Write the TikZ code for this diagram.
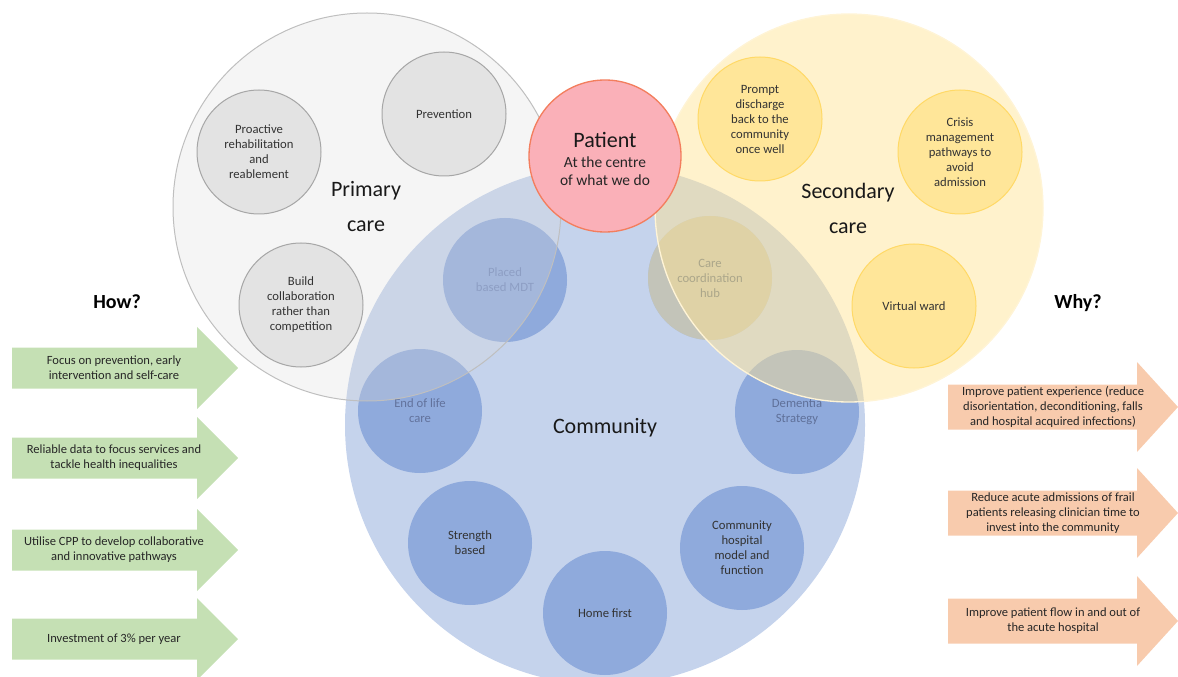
\documentclass[tikz,border=0pt]{standalone}
\usepackage{fontspec}
\setmainfont{Carlito}

\definecolor{commblue}{HTML}{C5D3EC}
\definecolor{ringblue}{HTML}{8FAADC}
\definecolor{primgray}{HTML}{DBDBDB}
\definecolor{ringgray}{HTML}{E3E3E3}
\definecolor{secyellow}{HTML}{FFE392}
\definecolor{secedge}{HTML}{FFF4D6}
\definecolor{ringyellow}{HTML}{FFE699}
\definecolor{ringedge}{HTML}{FFD966}
\definecolor{patpink}{HTML}{FAB0B8}
\definecolor{patedge}{HTML}{F37E5E}
\definecolor{howgreen}{HTML}{C5E0B4}
\definecolor{whyorange}{HTML}{F8CBAD}
\definecolor{placedtext}{HTML}{7087BB}
\definecolor{endtext}{HTML}{62729C}
\definecolor{dementext}{HTML}{5F7099}
\definecolor{hubtextcol}{HTML}{ABA68A}

\begin{document}
\begin{tikzpicture}[x=0.75pt,y=-0.75pt,
        ring/.style={circle,minimum size=93pt,inner sep=0pt,align=center,
            font=\fontsize{9.5}{11.25}\selectfont,text=black!80},
        bluering/.style={ring,fill=ringblue},
        grayring/.style={ring,fill=ringgray,draw=black!35,line width=0.75pt},
        yellowring/.style={ring,fill=ringyellow,draw=ringedge,line width=0.75pt},
        bigring/.style={circle,minimum size=291pt,inner sep=0pt},
        biglabel/.style={align=center,font=\fontsize{16.5}{26.25}\selectfont,text=black!90},
        armtext/.style={align=center,font=\fontsize{9.4}{11.25}\selectfont,text=black!85},
        heading/.style={font=\fontsize{15}{18}\selectfont\bfseries}]

            \useasboundingbox (0,0) rectangle (1178,677);

            % community and its services
            \node[circle,minimum size=390pt,inner sep=0pt,fill=commblue] (community) at (605,425) {};

            \node[bluering,text=placedtext] (placed) at (505,280) {Placed\\based MDT};

            \node[bluering] (hub) at (710,278) {};

            \node[bluering,text=endtext] (endlife) at (420,411) {End of life\\care};

            \node[bluering,text=dementext] (dementia) at (797,412) {Dementia\\Strategy};

            \node[bluering] (strength) at (470,543) {Strength\\based};

            \node[bluering] (homefirst) at (605,613) {Home first};

            \node[bluering] (commhosp) at (742,548) {Community\\hospital\\model and\\function};

            \node[biglabel] (commlabel) at (605,428) {Community};

            \node[circle,minimum size=93pt,inner sep=0pt,fill=secyellow,fill opacity=0.47] (hubveil) at (hub) {};

            % primary care
            \node[bigring,fill=primgray,fill opacity=0.28,draw=black!25,line width=0.75pt] (primary) at (367,207) {};

            \node[grayring] (proactive) at (259,152) {Proactive\\rehabilitation\\and\\reablement};

            \node[grayring] (prevention) at (444,114) {Prevention};

            \node[grayring] (build) at (301,305) {Build\\collaboration\\rather than\\competition};

            \node[biglabel] (primlabel) at (366,207) {Primary\\care};

            % secondary care
            \node[bigring,fill=secyellow,fill opacity=0.47,draw=secedge,line width=1pt] (secondary) at (849,208) {};

            \node[ring,text=hubtextcol] (hubtext) at (hub) {Care\\coordination\\hub};

            \node[yellowring] (prompt) at (760,119) {Prompt\\discharge\\back to the\\community\\once well};

            \node[yellowring] (crisis) at (960,152) {Crisis\\management\\pathways to\\avoid\\admission};

            \node[yellowring] (virtual) at (914,306) {Virtual ward};

            \node[biglabel] (seclabel) at (848,208) {Secondary\\care};

            % patient on top
            \node[circle,minimum size=114pt,inner sep=0pt,fill=patpink,draw=patedge,line width=1pt] (patient) at (605,156) {};

            \node[font=\fontsize{16.5}{20}\selectfont,text=black!90] (pattitle) at (605,140) {Patient};

            \node[align=center,font=\fontsize{11.6}{13.5}\selectfont,text=black!85] (patsub) at (605,171) {At the centre\\of what we do};

            % how and why arrows
            \node[heading] (how) at (117,302) {How?};

            \node[heading] (why) at (1078,303) {Why?};

            \foreach \y/\txt [count=\i] in {368/{Focus on prevention, early\\intervention and self-care},
                    458/{Reliable data to focus services and\\tackle health inequalities},
                    550/{Utilise CPP to develop collaborative\\and innovative pathways},
                    639/{Investment of 3\% per year}} {
                \fill[howgreen] (12,\y-20.5) -- (197,\y-20.5) -- (197,\y-41) -- (238,\y)
                    -- (197,\y+41) -- (197,\y+20.5) -- (12,\y+20.5) -- cycle;
                \node[armtext] (how\i) at (114,\y) {\txt};
            }

            \foreach \y/\txt [count=\i] in {407/{Improve patient experience (reduce\\disorientation, deconditioning, falls\\and hospital acquired infections)},
                    513/{Reduce acute admissions of frail\\patients releasing clinician time to\\invest into the community},
                    621/{Improve patient flow in and out of\\the acute hospital}} {
                \fill[whyorange] (948,\y-22.5) -- (1137,\y-22.5) -- (1137,\y-45) -- (1178,\y)
                    -- (1137,\y+45) -- (1137,\y+22.5) -- (948,\y+22.5) -- cycle;
                \node[armtext] (why\i) at (1053,\y) {\txt};
            }

        \end{tikzpicture}
\end{document}
